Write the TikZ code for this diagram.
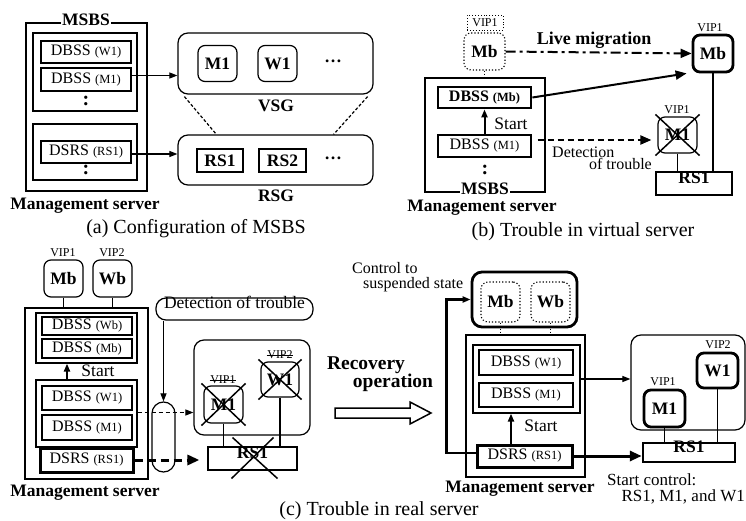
\documentclass[tikz,border=0pt]{standalone}
\usepackage{fontspec}
\setmainfont{Liberation Serif}
\usetikzlibrary{arrows.meta,fit,calc}

% font sizes (1pt = 1 unit of the picture)
\newcommand\fsBox{\fontsize{16}{18}\selectfont}
\newcommand\fsSub{\fontsize{12.5}{14}\selectfont}
\newcommand\fsVip{\fontsize{12}{13}\selectfont}
\newcommand\fsLbl{\fontsize{17.5}{20}\selectfont}
\newcommand\fsRec{\fontsize{19.5}{21}\selectfont}
\newcommand\fsCap{\fontsize{20}{22}\selectfont}

\tikzset{
  box/.style={draw, rectangle, inner sep=0pt, line width=1.2pt, font=\fsBox},
  thickbox/.style={box, line width=2.8pt},
  grp/.style={draw, rectangle, inner sep=0pt, line width=1.2pt},
  outer/.style={draw, rectangle, inner sep=0pt, line width=2.8pt},
  vm/.style={draw, rounded corners=7pt, inner sep=0pt, line width=1.2pt,
    minimum width=39pt, minimum height=36pt, font=\fsLbl\bfseries},
  vmthick/.style={vm, line width=2.8pt},
  vmghost/.style={vm, dotted, line width=1.1pt},
  hostbox/.style={draw, rounded corners=10pt, inner sep=0pt, line width=1.2pt},
  lbl/.style={inner sep=1pt, font=\fsLbl\bfseries},
  txt/.style={inner sep=0pt, font=\fsBox},
  vip/.style={inner sep=0.5pt, font=\fsVip},
  captext/.style={inner sep=0pt, font=\fsCap},
  vdots/.style={inner sep=0pt, font=\fontsize{20}{20}\selectfont\bfseries},
  tip/.style={-{Triangle[length=8pt,width=6pt]}},
  bigtip/.style={-{Triangle[length=12pt,width=10pt]}},
  cross/.style={line width=1.5pt},
  link/.style={line width=1.1pt},
}

\begin{document}
\begin{tikzpicture}[x=1pt,y=-1pt]
\useasboundingbox (0,0) rectangle (746,521);
\fill[white] (0,0) rectangle (746,521);

% ---------------- (a) Configuration of MSBS ----------------
\node[outer, fit={(26,23)(147,191)}] (msbsA) {};
\node[lbl, fill=white] (msbsAl) at (86,19.5) {MSBS};
\node[grp, fit={(33,33)(137,111)}] (gA1) {};
\node[box, minimum width=90pt, minimum height=22pt] (dbW1A) at (86,52) {DBSS {\fsSub (W1)}};
\node[box, minimum width=90pt, minimum height=23pt] (dbM1A) at (86,79.5) {DBSS {\fsSub (M1)}};
\node[vdots] (dA1) at (86,101) {:};
\node[grp, fit={(33,124)(137,180)}] (gA2) {};
\node[box, minimum width=90pt, minimum height=22pt] (dsA) at (86,152) {DSRS {\fsSub (RS1)}};
\node[vdots] (dA2) at (86,170) {:};
\node[lbl] (mgA) at (85,206) {Management server};

\node[hostbox, fit={(178,33)(373,94)}] (vsg) {};
\node[vm] (m1A) at (217.5,63.5) {M1};
\node[vm] (w1A) at (277.5,63.5) {W1};
\node[lbl] (dotsA1) at (333,61) {\ldots};
\node[lbl] (vsgl) at (276,106) {VSG};
\node[hostbox, fit={(178,135)(373,185)}] (rsg) {};
\node[box, font=\fsLbl\bfseries, minimum width=46pt, minimum height=23pt] (rs1A) at (220,160.5) {RS1};
\node[box, font=\fsLbl\bfseries, minimum width=47pt, minimum height=23pt] (rs2A) at (282.5,160.5) {RS2};
\node[lbl] (dotsA2) at (333,158) {\ldots};
\node[lbl] (rsgl) at (276,196) {RSG};

\draw[tip, link] ([yshift=4pt]dbM1A.east) -- ([yshift=4pt]dbM1A.east -| vsg.west);
\draw[tip, link] ([yshift=-2pt]dsA.east) -- ([yshift=-2pt]dsA.east -| rsg.west);
\draw[line width=1.2pt, dash pattern=on 3pt off 2pt]
  ([xshift=7pt,yshift=-2pt]vsg.south west) -- ([xshift=39pt]rsg.north west);
\draw[line width=1.2pt, dash pattern=on 3pt off 2pt]
  ([xshift=-6pt,yshift=-2pt]vsg.south east) -- ([xshift=-40pt]rsg.north east);

\node[captext] (capA) at (196,229) {(a) Configuration of MSBS};

% ---------------- (b) Trouble in virtual server ----------------
\node[vip, draw, dotted, line width=0.9pt, minimum width=36pt, minimum height=15pt] (vipB) at (485,22.5) {VIP1};
\node[vmghost, minimum width=41pt, minimum height=37pt] (mbB) at (484.5,51.5) {Mb};
\node[outer, fit={(425,78)(545,192)}] (msbsB) {};
\draw[dotted, line width=1pt] (mbB.south) -- (mbB.south |- msbsB.north);
\node[thickbox, font=\fsBox\bfseries, minimum width=93pt, minimum height=21pt] (dbMbB) at (484.5,97.5) {DBSS {\fsSub (Mb)}};
\node[box, minimum width=93pt, minimum height=22pt] (dbM1B) at (484.5,146) {DBSS {\fsSub (M1)}};
\draw[tip, line width=2pt] (dbM1B.north) -- (dbMbB.south);
\node[txt, font=\fsLbl] (stB) at (511,124) {Start};
\node[vdots] (dB) at (485,170) {:};
\node[lbl, fill=white] (msbsBl) at (485,189) {MSBS};
\node[lbl] (mgB) at (482,208) {Management server};

\node[vmthick, minimum width=40pt, minimum height=37pt] (mbR) at (713,53.5) {Mb};
\node[vip] (vipMbR) at (710,28) {VIP1};
\node[vm] (m1R) at (677.5,135) {M1};
\node[vip] (vipM1R) at (677,110) {VIP1};
\draw[cross] ([shift={(-2pt,2pt)}]m1R.north west) -- ([shift={(2pt,-2pt)}]m1R.south east);
\draw[cross] ([shift={(2pt,2pt)}]m1R.north east) -- ([shift={(-2pt,-2pt)}]m1R.south west);
\node[box, line width=1.2pt, font=\fsLbl\bfseries, fit={(656,172)(732,195)}] (rs1B) {RS1};
\draw[link] (m1R.south) -- (m1R.south |- rs1B.north);
\draw[line width=2.2pt] (mbR.south) -- (mbR.south |- rs1B.north);

\draw[-{Triangle[length=11pt,width=9pt]}, line width=2pt,
  dash pattern=on 10pt off 4pt on 3pt off 4pt] (mbB.east) -- (mbR.west);
\node[inner sep=0pt, font=\fontsize{18}{20}\selectfont\bfseries] (lmB) at (594,40) {Live migration};
\draw[-{Triangle[length=11pt,width=9pt]}, line width=2pt] (dbMbB.east) -- ([xshift=-5pt]mbR.south west);
\draw[-{Triangle[length=11pt,width=9pt]}, line width=2pt, dash pattern=on 6pt off 4pt,
  shorten <=6pt, shorten >=6pt] ([yshift=6pt]dbM1B.east) -- ([yshift=6pt]dbM1B.east -| m1R.west);
\node[txt, anchor=west] (detB1) at (552,152) {Detection};
\node[txt, anchor=east] (detB2) at (652,164) {of trouble};

\node[captext] (capB) at (583,232) {(b) Trouble in virtual server};

% ---------------- (c) Trouble in real server: before ----------------
\node[vm, minimum height=37pt] (mbC) at (63.5,278.5) {Mb};
\node[vm, minimum height=37pt] (wbC) at (112.5,278.5) {Wb};
\node[vip] (v1Cm) at (63,253) {VIP1};
\node[vip] (v2Cm) at (112,253) {VIP2};
\node[outer, fit={(25,308)(148,479)}] (msC) {};
\draw[link] (mbC.south) -- (mbC.south |- msC.north);
\draw[link] (wbC.south) -- (wbC.south |- msC.north);
\node[grp, fit={(36,313)(137,363)}] (gC1) {};
\node[box, minimum width=90pt, minimum height=18pt] (dbWbC) at (87,326) {DBSS {\fsSub (Wb)}};
\node[box, minimum width=90pt, minimum height=19pt] (dbMbC) at (87,348.5) {DBSS {\fsSub (Mb)}};
\node[grp, fit={(36,380)(137,447)}] (gC2) {};
\draw[tip, line width=2pt] ([xshift=-19.5pt]gC2.north) -- ([xshift=-19.5pt]gC1.south);
\node[txt, font=\fsLbl] (stC) at (98,371) {Start};
\node[box, minimum width=90pt, minimum height=24pt] (dbW1C) at (87,398) {DBSS {\fsSub (W1)}};
\node[box, minimum width=90pt, minimum height=25pt] (dbM1C) at (87,427.5) {DBSS {\fsSub (M1)}};
\node[thickbox, line width=3pt, minimum width=93pt, minimum height=24pt] (dsC) at (86.5,460) {DSRS {\fsSub (RS1)}};
\node[lbl] (mgC) at (85,493) {Management server};

\node[hostbox, font=\fsLbl, fit={(156,298)(313,320)}] (detC) {Detection of trouble};
\node[draw, line width=1.2pt, inner sep=0pt, rounded corners=11.5pt, fit={(152,402)(175,472)}] (capsC) {};
\draw[tip, link] (capsC.north |- detC.south) -- (capsC.north);

\node[hostbox, fit={(194,340)(310,435)}] (realC) {};
\node[vm, minimum height=37pt] (m1C) at (223.5,404.5) {M1};
\node[vm, minimum width=38pt, minimum height=35pt] (w1C) at (280,379.5) {W1};
\node[vip] (v1C) at (223,380) {VIP1};
\draw[line width=0.8pt] (v1C.west) -- (v1C.east);
\node[vip] (v2C) at (280,355) {VIP2};
\draw[line width=0.8pt] (v2C.west) -- (v2C.east);
\draw[cross] ([shift={(-2pt,2pt)}]m1C.north west) -- ([shift={(2pt,-2pt)}]m1C.south east);
\draw[cross] ([shift={(2pt,2pt)}]m1C.north east) -- ([shift={(-2pt,-2pt)}]m1C.south west);
\draw[cross] ([shift={(-2pt,2pt)}]w1C.north west) -- ([shift={(2pt,-2pt)}]w1C.south east);
\draw[cross] ([shift={(2pt,2pt)}]w1C.north east) -- ([shift={(-2pt,-2pt)}]w1C.south west);
\node[box, line width=1.2pt, font=\fsLbl\bfseries, fit={(208,447)(297,470)}] (rs1C) {RS1};
\draw[link] (m1C.south) -- (m1C.south |- rs1C.north);
\draw[link] (w1C.south) -- (w1C.south |- rs1C.north);
\draw[cross] ($(rs1C.center)+(-20,-21)$) -- ($(rs1C.center)+(25,20)$);
\draw[cross] ($(rs1C.center)+(21,-21)$) -- ($(rs1C.center)+(-21,20)$);

\coordinate (midC) at ($(dbW1C.south east)!0.5!(dbM1C.north east)$);
\draw[tip, link, dash pattern=on 4pt off 3pt, shorten <=5pt] (midC) -- (midC -| realC.west);
\draw[bigtip, line width=3pt, dash pattern=on 8pt off 5pt, shorten >=8pt] (dsC.east) -- (dsC.east -| rs1C.west);

% recovery arrow
\draw[line width=1.5pt] (335,408) -- (410,408) -- (410,402) -- (431,413) -- (410,424) -- (410,418) -- (335,418) -- cycle;
\node[inner sep=0pt, font=\fsRec\bfseries] (recv) at (366,365) {Recovery};
\node[inner sep=0pt, font=\fsRec\bfseries] (oper) at (393,383) {operation};

% ---------------- (c) Trouble in real server: after ----------------
\node[txt, anchor=west, font=\fontsize{16}{18}\selectfont] (ctl1) at (352,268) {Control to};
\node[txt, anchor=west, font=\fontsize{16}{18}\selectfont] (ctl2) at (363,285) {suspended state};
\node[hostbox, line width=2.8pt, fit={(472,272)(577,327)}] (suspD) {};
\node[vmghost, minimum height=40pt] (mbS) at (500.5,302) {Mb};
\node[vmghost, minimum height=40pt] (wbS) at (550.5,302) {Wb};
\node[outer, fit={(466,335)(585,477)}] (msD) {};
\draw[dotted, line width=1pt] (mbS.south) -- (mbS.south |- msD.north);
\draw[dotted, line width=1pt] (wbS.south) -- (wbS.south |- msD.north);
\node[grp, fit={(473,345)(580,413)}] (gD) {};
\node[box, minimum width=94pt, minimum height=25pt] (dbW1D) at (526,362.5) {DBSS {\fsSub (W1)}};
\node[box, minimum width=94pt, minimum height=24pt] (dbM1D) at (526,395) {DBSS {\fsSub (M1)}};
\node[thickbox, line width=3pt, minimum width=95pt, minimum height=22pt] (dsD) at (524.5,456) {DSRS {\fsSub (RS1)}};
\draw[tip, line width=2pt] ([xshift=-13.5pt]dsD.north) -- ([xshift=-13.5pt]dsD.north |- gD.south);
\node[txt, font=\fsLbl] (stD) at (541,426) {Start};
\node[lbl] (mgD) at (520,489) {Management server};
\draw[tip, line width=2.5pt] ([yshift=3pt]dsD.west) -- ++(-29,0) |- (suspD.west);

\node[hostbox, fit={(631,335)(745,430)}] (realD) {};
\node[vmthick, minimum width=41pt, minimum height=35pt] (w1D) at (717.5,370.5) {W1};
\node[vmthick, minimum width=41pt, minimum height=37pt] (m1D) at (664.5,408.5) {M1};
\node[vip] (v2D) at (718,345) {VIP2};
\node[vip] (v1D) at (663,382) {VIP1};
\node[thickbox, line width=2.5pt, font=\fsLbl\bfseries, fit={(643,443)(735,462)}] (rs1D) {RS1};
\draw[link] (m1D.south) -- (m1D.south |- rs1D.north);
\draw[link] (w1D.south) -- (w1D.south |- rs1D.north);

\coordinate (midD) at ($(dbW1D.south)!0.5!(dbM1D.north)$);
\draw[tip, link] (midD -| gD.east) -- (midD -| realD.west);
\draw[bigtip, line width=3pt] (dsD.east) -- (dsD.east -| rs1D.west);

\node[txt, anchor=west, font=\fontsize{17}{19}\selectfont] (sc1) at (607,480) {Start control:};
\node[txt, anchor=east, font=\fontsize{17}{19}\selectfont] (sc2) at (745,497) {RS1, M1, and W1};

\node[captext] (capC) at (379,511) {(c) Trouble in real server};
\end{tikzpicture}
\end{document}
